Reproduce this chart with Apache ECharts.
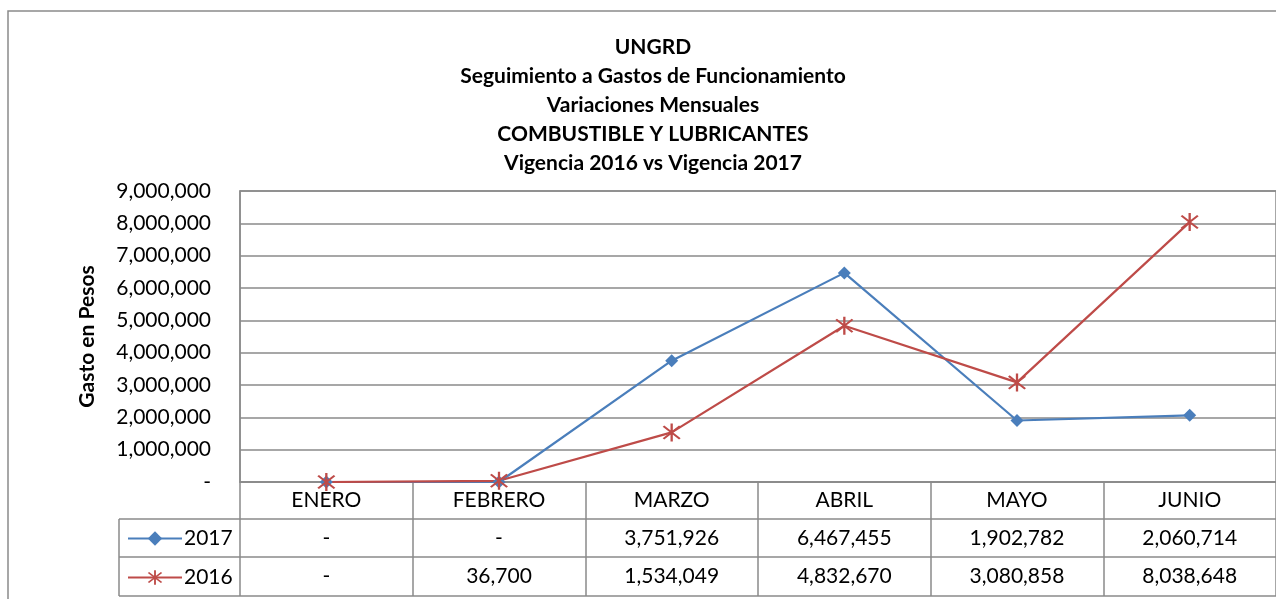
<!DOCTYPE html>
<html>
<head>
<meta charset="utf-8">
<script src="https://cdn.jsdelivr.net/npm/echarts@6/dist/echarts.min.js"></script>
<style>
  html, body { margin: 0; padding: 0; background: #fff; }
  #main { width: 1276px; height: 599px; }
</style>
</head>
<body>
<div id="main"></div>
<script>
// datos
var meses = ['ENERO', 'FEBRERO', 'MARZO', 'ABRIL', 'MAYO', 'JUNIO'];
var gasto2017 = [0, 0, 3751926, 6467455, 1902782, 2060714];
var gasto2016 = [0, 36700, 1534049, 4832670, 3080858, 8038648];
var titulo = [
  'UNGRD',
  'Seguimiento a Gastos de Funcionamiento',
  'Variaciones Mensuales',
  'COMBUSTIBLE Y LUBRICANTES',
  'Vigencia 2016 vs Vigencia 2017'
];

var FONT = 'Lato, "Liberation Sans", sans-serif';
var FS = 21;
var GRIS = '#8a8a8a';
var AZUL = '#4A7EBB';
var ROJO = '#BE4B48';

// asterisco (X + linea vertical)
var estrella = 'path://M-1,-10 L1,-10 L1,10 L-1,10 Z ' +
  'M-7.8,-6.4 L-6.4,-7.8 L7.8,6.4 L6.4,7.8 Z ' +
  'M6.4,-7.8 L7.8,-6.4 L-6.4,7.8 L-7.8,6.4 Z';

function miles(v) {
  if (v === 0) return '-';
  return String(v).replace(/\B(?=(\d{3})+(?!\d))/g, ',');
}

var chartDom = document.getElementById('main');
var chart = echarts.init(chartDom);

var gridLeft = 240, gridTop = 191, gridW = 1050, gridH = 291;
var filas = [519, 557, 596]; // bordes de la tabla

var option = {
  animation: false,
  backgroundColor: '#fff',
  title: {
    text: titulo.join('\n'),
    left: 648,
    top: 28,
    textAlign: 'center',
    textStyle: { fontFamily: FONT, fontSize: FS, fontWeight: 'bold', color: '#000', lineHeight: 29 }
  },
  legend: {
    orient: 'vertical',
    left: 122,
    top: 523,
    itemWidth: 54,
    itemHeight: 18,
    itemGap: 18,
    data: ['2017', '2016'],
    textStyle: { fontFamily: FONT, fontSize: FS, color: '#000', padding: [0, 0, 0, -3] }
  },
  grid: {
    left: gridLeft, top: gridTop, width: gridW, height: gridH,
    show: true, borderColor: GRIS, borderWidth: 1.5
  },
  xAxis: {
    type: 'category',
    data: meses,
    boundaryGap: true,
    axisLine: { lineStyle: { color: GRIS, width: 1.5 } },
    axisTick: { show: true, inside: false, length: filas[2] - gridTop - gridH, lineStyle: { color: GRIS, width: 1.5 } },
    axisLabel: { fontFamily: FONT, fontSize: FS, color: '#000', margin: 8 }
  },
  yAxis: {
    type: 'value',
    min: 0,
    max: 9000000,
    interval: 1000000,
    name: 'Gasto en Pesos',
    nameLocation: 'middle',
    nameRotate: 90,
    nameGap: 142,
    nameTextStyle: { fontFamily: FONT, fontSize: FS, fontWeight: 'bold', color: '#000' },
    axisLine: { show: true, lineStyle: { color: GRIS, width: 1.5 } },
    axisTick: { show: false },
    axisLabel: { fontFamily: FONT, fontSize: FS, color: '#000', margin: 29, formatter: miles },
    splitLine: { lineStyle: { color: GRIS, width: 1.5 } }
  },
  series: [
    {
      name: '2017',
      type: 'line',
      data: gasto2017,
      symbol: 'diamond',
      symbolSize: 13,
      lineStyle: { color: AZUL, width: 2.2 },
      itemStyle: { color: AZUL }
    },
    {
      name: '2016',
      type: 'line',
      data: gasto2016,
      symbol: estrella,
      symbolSize: 18,
      lineStyle: { color: ROJO, width: 2.2 },
      itemStyle: { color: ROJO }
    }
  ]
};
chart.setOption(option);

// tabla de datos bajo el eje
var graficos = [
  { type: 'rect', shape: { x: 8, y: 11, width: 1300, height: 620 }, style: { fill: 'none', stroke: GRIS, lineWidth: 1.5 }, z: -1 },
  { type: 'line', shape: { x1: 119, y1: filas[0], x2: 1300, y2: filas[0] }, style: { stroke: GRIS, lineWidth: 1.5 } },
  { type: 'line', shape: { x1: 119, y1: filas[1], x2: 1300, y2: filas[1] }, style: { stroke: GRIS, lineWidth: 1.5 } },
  { type: 'line', shape: { x1: 119, y1: filas[2], x2: 1300, y2: filas[2] }, style: { stroke: GRIS, lineWidth: 1.5 } },
  { type: 'line', shape: { x1: 119, y1: filas[0], x2: 119, y2: filas[2] }, style: { stroke: GRIS, lineWidth: 1.5 } }
];
var series = [gasto2017, gasto2016];
series.forEach(function (vals, r) {
  var yc = (filas[r] + filas[r + 1]) / 2;
  vals.forEach(function (v, i) {
    var px = chart.convertToPixel({ xAxisIndex: 0 }, meses[i]);
    graficos.push({
      type: 'text',
      x: px, y: yc,
      style: { text: miles(v), fill: '#000', font: FS + 'px ' + FONT, align: 'center', verticalAlign: 'middle' }
    });
  });
});
chart.setOption({ graphic: graficos });
</script>
</body>
</html>
